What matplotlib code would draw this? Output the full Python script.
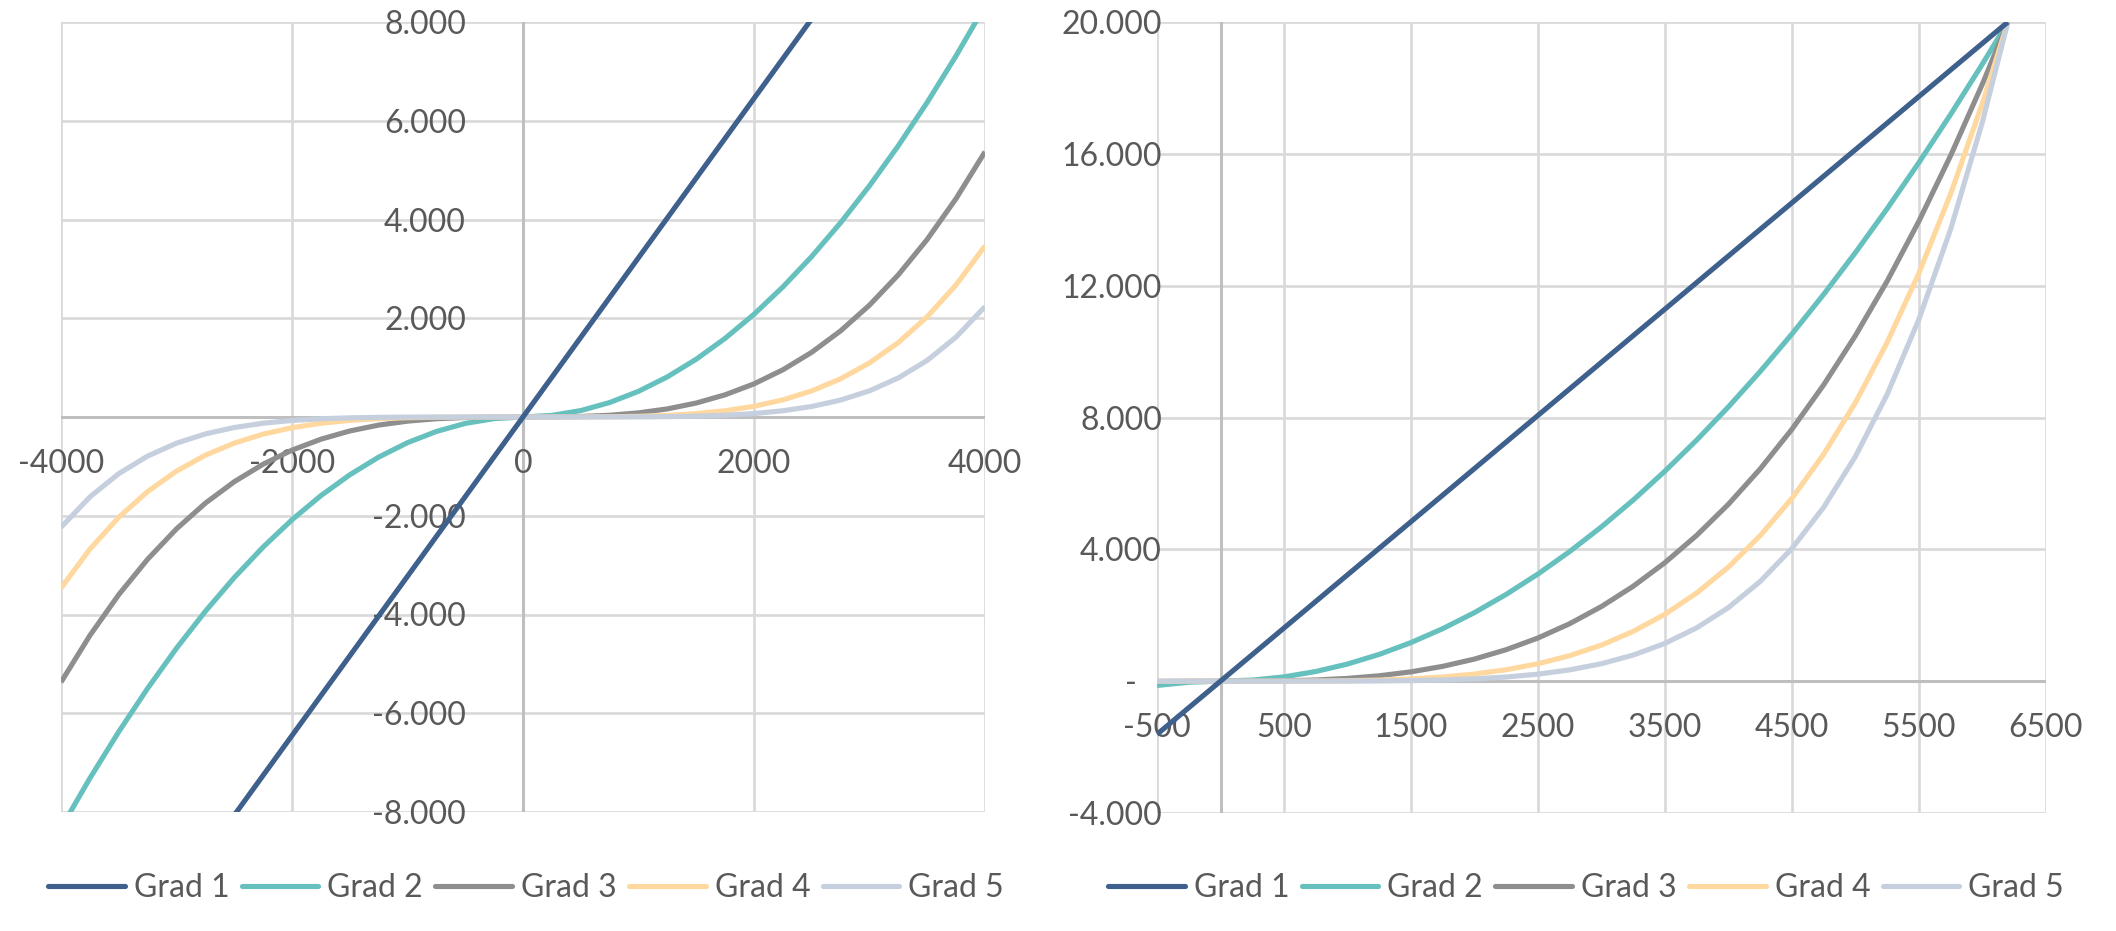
import matplotlib
matplotlib.use("Agg")
import matplotlib.pyplot as plt
from matplotlib.lines import Line2D
from matplotlib.ticker import FixedLocator, FuncFormatter
import numpy as np

plt.rcParams['font.family'] = ['Lato', 'DejaVu Sans']

# ---------------- data ----------------
x_values = [-4000, -3750, -3500, -3250, -3000, -2750, -2500, -2250, -2000, -1750,
            -1500, -1250, -1000, -750, -500, -250, 0, 250, 500, 750,
            1000, 1250, 1500, 1750, 2000, 2250, 2500, 2750, 3000, 3250,
            3500, 3750, 4000, 4250, 4500, 4750, 5000, 5250, 5500, 5750,
            6000, 6200]

grad1 = [-12903, -12097, -11290, -10484, -9677, -8871, -8065, -7258, -6452, -5645,
         -4839, -4032, -3226, -2419, -1613, -806, 0, 806, 1613, 2419,
         3226, 4032, 4839, 5645, 6452, 7258, 8065, 8871, 9677, 10484,
         11290, 12097, 12903, 13710, 14516, 15323, 16129, 16935, 17742, 18548,
         19355, 20000]
grad2 = [-8325, -7317, -6374, -5496, -4683, -3935, -3252, -2634, -2081, -1593,
         -1171, -813, -520, -293, -130, -33, 0, 33, 130, 293,
         520, 813, 1171, 1593, 2081, 2634, 3252, 3935, 4683, 5496,
         6374, 7317, 8325, 9398, 10536, 11739, 13007, 14341, 15739, 17202,
         18730, 20000]
grad3 = [-5371, -4425, -3598, -2881, -2266, -1745, -1311, -956, -671, -450,
         -283, -164, -84, -35, -10, -1, 0, 1, 10, 35,
         84, 164, 283, 450, 671, 956, 1311, 1745, 2266, 2881,
         3598, 4425, 5371, 6442, 7647, 8994, 10490, 12143, 13962, 15954,
         18126, 20000]
grad4 = [-3465, -2677, -2031, -1510, -1096, -774, -529, -347, -217, -127,
         -69, -33, -14, -4, -1, 0, 0, 0, 1, 4,
         14, 33, 69, 127, 217, 347, 529, 774, 1096, 1510,
         2031, 2677, 3465, 4416, 5550, 6890, 8459, 10283, 12386, 14796,
         17542, 20000]
grad5 = [-2235, -1619, -1147, -792, -530, -343, -213, -126, -70, -36,
         -17, -7, -2, -1, 0, 0, 0, 0, 0, 1,
         2, 7, 17, 36, 70, 126, 213, 343, 530, 792,
         1147, 1619, 2235, 3027, 4028, 5279, 6822, 8707, 10987, 13722,
         16976, 20000]

series_names = ['Grad 1', 'Grad 2', 'Grad 3', 'Grad 4', 'Grad 5']
series_values = [grad1, grad2, grad3, grad4, grad5]

left_x_range = (-4000, 4000)
right_x_range = (-500, 6200)
left_xticks = [-4000, -2000, 0, 2000, 4000]
left_yticks = [-8000, -6000, -4000, -2000, 0, 2000, 4000, 6000, 8000]
right_xticks = [-500, 500, 1500, 2500, 3500, 4500, 5500, 6500]
right_yticks = [-4000, 0, 4000, 8000, 12000, 16000, 20000]

# ---------------- style ----------------
colors = ['#3E608C', '#66C0BE', '#8E8E8E', '#FFD89F', '#C5CFDE']
zorders = [2.4, 2.0, 2.1, 2.2, 2.3]
text_color = '#595959'
grid_color = '#D9D9D9'
axis_color = '#BFBFBF'
FS = 23
W, H = 2116, 931

fig = plt.figure(figsize=(W / 100, H / 100), dpi=100)
axL = fig.add_axes([61 / W, (H - 812) / H, 924 / W, 790 / H])
axR = fig.add_axes([1157 / W, (H - 813) / H, 889 / W, 791 / H])

xs = np.array(x_values, dtype=float)


def yfmt(v, pos):
    if abs(v) < 1e-9:
        return '-   '
    return f'{int(round(v)):,}'.replace(',', '.')


def xfmt(v, pos):
    return f'{int(round(v))}'


def setup(ax, xr, xlim, ylim, xticks, yticks, ypad, xpad, yspine_at_zero):
    mask = (xs >= xr[0]) & (xs <= xr[1])
    for name, vals, c, z in zip(series_names, series_values, colors, zorders):
        ax.plot(xs[mask], np.array(vals, dtype=float)[mask], color=c, lw=3.7,
                solid_capstyle='butt', solid_joinstyle='round', zorder=z)
    ax.set_xlim(*xlim)
    ax.set_ylim(*ylim)
    for s in ax.spines.values():
        s.set_visible(False)
    ax.spines['bottom'].set_position(('data', 0))
    if yspine_at_zero:
        ax.spines['left'].set_position(('data', 0))
    ax.xaxis.set_major_locator(FixedLocator(xticks))
    ax.yaxis.set_major_locator(FixedLocator(yticks))
    ax.xaxis.set_major_formatter(FuncFormatter(xfmt))
    ax.yaxis.set_major_formatter(FuncFormatter(yfmt))
    ax.tick_params(axis='both', length=0, labelsize=FS, labelcolor=text_color)
    ax.tick_params(axis='y', pad=ypad)
    ax.tick_params(axis='x', pad=xpad)
    # gridlines below the series, tick labels above them
    for t in xticks:
        ax.axvline(t, color=grid_color, lw=1.9, zorder=1)
    for t in yticks:
        ax.axhline(t, color=grid_color, lw=1.9, zorder=1)
    ax.axhline(0, color=axis_color, lw=2.2, zorder=1.5)
    ax.axvline(0, color=axis_color, lw=2.2, zorder=1.5)
    ax.patch.set_visible(False)


setup(axL, left_x_range, (-4000, 4000), (-8000, 8000), left_xticks, left_yticks,
      ypad=41, xpad=23, yspine_at_zero=True)
setup(axR, right_x_range, (-500, 6500), (-4000, 20000), right_xticks, right_yticks,
      ypad=-3.6, xpad=23, yspine_at_zero=False)

handles = [Line2D([0], [0], color=c, lw=3.7, solid_capstyle='round') for c in colors]
for cx in (526, 1586):
    fig.legend(handles, series_names, loc='center',
               bbox_to_anchor=(cx / W, 43 / H), bbox_transform=fig.transFigure,
               ncol=5, frameon=False, fontsize=FS, labelcolor=text_color,
               handlelength=2.4, handletextpad=0.28, columnspacing=0.39,
               borderpad=0, borderaxespad=0)

fig.savefig('out.png', dpi=100, facecolor='white')
